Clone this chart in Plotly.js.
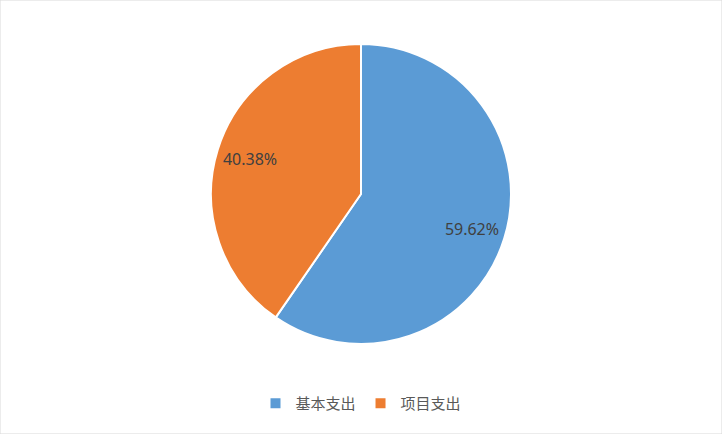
<!DOCTYPE html>
<html>
<head>
<meta charset="utf-8">
<script src="https://cdn.plot.ly/plotly-3.0.1.min.js"></script>
<style>
  html, body { margin: 0; padding: 0; background: #fff; }
  #chart { width: 722px; height: 434px; }
</style>
</head>
<body>
<div id="chart"></div>
<script>
// 支出构成
var categories = ['基本支出', '项目支出'];
var shares = [59.62, 40.38];
var colors = ['#5B9BD5', '#ED7D31'];

var pieDomain = { x: [0, 1], y: [0.2074, 0.8986] };

// filled pie, no text
var slices = {
  type: 'pie',
  labels: categories,
  values: shares,
  sort: false,
  direction: 'clockwise',
  rotation: 0,
  marker: { colors: colors, line: { color: '#ffffff', width: 2 } },
  textinfo: 'none',
  hoverinfo: 'label+percent',
  domain: pieDomain
};

// transparent ring on top, only to push the labels out toward the rim
var labelRing = {
  type: 'pie',
  labels: categories,
  values: shares,
  sort: false,
  direction: 'clockwise',
  rotation: 0,
  hole: 0.55,
  showlegend: false,
  marker: { colors: ['rgba(0,0,0,0)', 'rgba(0,0,0,0)'], line: { width: 0 } },
  texttemplate: '%{percent:.2%}',
  textposition: 'inside',
  insidetextorientation: 'horizontal',
  textfont: { family: 'Noto Sans, sans-serif', size: 16, color: '#404040' },
  hoverinfo: 'skip',
  domain: pieDomain
};

var layout = {
  width: 722,
  height: 434,
  margin: { l: 0, r: 0, t: 0, b: 0 },
  paper_bgcolor: '#ffffff',
  showlegend: true,
  legend: {
    orientation: 'h',
    x: 0.5, xanchor: 'center',
    y: 0.07, yanchor: 'middle',
    font: { family: 'Noto Sans CJK SC, sans-serif', size: 15, color: '#595959' },
    itemclick: false
  },
  shapes: [{
    type: 'rect', xref: 'paper', yref: 'paper',
    x0: 0, x1: 1, y0: 0, y1: 1,
    line: { color: '#d9d9d9', width: 1 }
  }]
};

Plotly.newPlot('chart', [slices, labelRing], layout, { displayModeBar: false, staticPlot: true });
</script>
</body>
</html>
